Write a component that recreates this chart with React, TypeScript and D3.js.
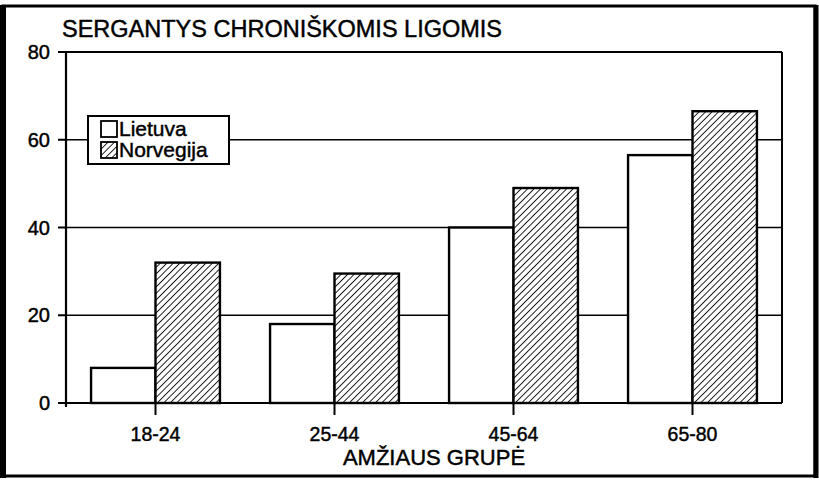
import React from 'react';
import * as d3 from 'd3';

const width = 819;
const height = 481;

const categories = ['18-24', '25-44', '45-64', '65-80'];
const seriesNames = ['Lietuva', 'Norvegija'];
const lietuva = [8, 18, 40, 56.5];
const norvegija = [32, 29.5, 49, 66.5];
const yTicks = [0, 20, 40, 60, 80];

const title = 'SERGANTYS CHRONIŠKOMIS LIGOMIS';
const xTitle = 'AMŽIAUS GRUPĖ';

const left = 66;
const right = 782;
const top = 52;
const bottom = 403;

const font = '"Liberation Sans", Arial, Helvetica, sans-serif';

const x0 = d3.scaleBand<string>()
  .domain(categories)
  .range([left, right])
  .paddingInner(0.28)
  .paddingOuter(0.14);

const x1 = d3.scaleBand<string>()
  .domain(seriesNames)
  .range([0, x0.bandwidth()]);

const y = d3.scaleLinear().domain([0, 80]).range([bottom, top]);

const rows = categories.map((c, i) => ({ cat: c, values: [lietuva[i], norvegija[i]] }));

const fillFor = (s: string) => (s === 'Norvegija' ? 'url(#hatch)' : '#fff');

// scanned print looks a bit heavier than plain Liberation Sans
const txt = { stroke: '#000', strokeWidth: 0.45 };

const App = () => {
  return (
    <svg
      width={width}
      height={height}
      style={{ position: 'absolute', left: 0, top: 0, background: '#fff' }}
      fontFamily={font}
    >
      <defs>
        <pattern id="hatch" patternUnits="userSpaceOnUse" width={4.6} height={4.6} patternTransform="rotate(45)">
          <rect width={4.6} height={4.6} fill="#fff" />
          <line x1={0} y1={0} x2={0} y2={4.6} stroke="#000" strokeWidth={1.7} />
        </pattern>
      </defs>

      {/* outer frame */}
      <rect x={3} y={6} width={812} height={470} fill="none" stroke="#000" strokeWidth={3} />
      <line x1={3} y1={5} x2={3} y2={478} stroke="#000" strokeWidth={6} />
      <line x1={816} y1={5} x2={816} y2={478} stroke="#000" strokeWidth={5} />

      <text x={62} y={37} fontSize={23.5} {...txt}>{title}</text>

      {/* gridlines */}
      {yTicks.filter(t => t > 0 && t < 80).map(t => (
        <line key={t} x1={left} x2={right} y1={y(t)} y2={y(t)} stroke="#000" strokeWidth={1.5} />
      ))}

      {/* bars */}
      {rows.map(r => (
        <g key={r.cat} transform={`translate(${x0(r.cat)},0)`}>
          {seriesNames.map((s, j) => (
            <rect
              key={s}
              x={x1(s)}
              y={y(r.values[j])}
              width={x1.bandwidth()}
              height={y(0) - y(r.values[j])}
              fill={fillFor(s)}
              stroke="#000"
              strokeWidth={2.4}
            />
          ))}
        </g>
      ))}

      {/* plot frame & axes */}
      <line x1={left - 8} x2={right} y1={top} y2={top} stroke="#000" strokeWidth={2.2} />
      <line x1={right} x2={right} y1={top} y2={bottom} stroke="#000" strokeWidth={2} />
      <line x1={left} x2={left} y1={top} y2={bottom + 4} stroke="#000" strokeWidth={2.2} />
      <line x1={left - 8} x2={right} y1={bottom} y2={bottom} stroke="#000" strokeWidth={2.2} />

      {yTicks.map(t => (
        <g key={t}>
          <line x1={left - 8} x2={left} y1={y(t)} y2={y(t)} stroke="#000" strokeWidth={2} />
          <text x={left - 16} y={y(t)} dy="0.36em" textAnchor="end" fontSize={20} {...txt}>{t}</text>
        </g>
      ))}

      {categories.map(c => {
        const cx = (x0(c) ?? 0) + x0.bandwidth() / 2;
        return (
          <g key={c}>
            <line x1={cx} x2={cx} y1={bottom} y2={bottom + 12} stroke="#000" strokeWidth={2} />
            <text x={cx} y={441} textAnchor="middle" fontSize={19.5} {...txt}>{c}</text>
          </g>
        );
      })}

      <text x={434} y={465} textAnchor="middle" fontSize={22} {...txt}>{xTitle}</text>

      {/* legend */}
      <g>
        <rect x={88} y={116} width={141} height={48} fill="#fff" stroke="#000" strokeWidth={2} />
        {seriesNames.map((s, i) => (
          <g key={s} transform={`translate(101,${121 + i * 21})`}>
            <rect x={0} y={0} width={16} height={16} fill={fillFor(s)} stroke="#000" strokeWidth={1.8} />
            <text x={18} y={15} fontSize={21} {...txt}>{s}</text>
          </g>
        ))}
      </g>
    </svg>
  );
};

export default App;
